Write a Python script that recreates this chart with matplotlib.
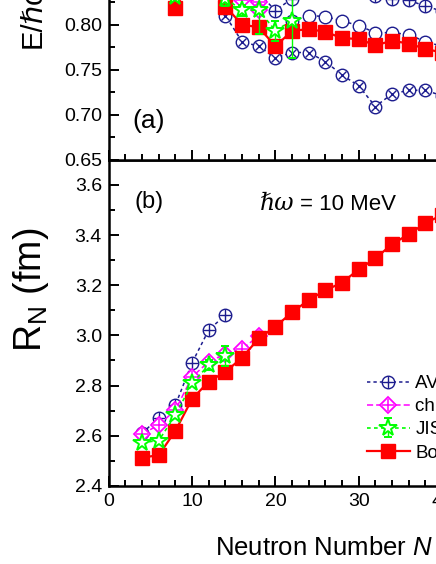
import matplotlib
matplotlib.use("Agg")
import matplotlib.pyplot as plt
from matplotlib.ticker import MultipleLocator, FormatStrFormatter
from matplotlib.legend_handler import HandlerTuple

plt.rcParams['font.family'] = ['Liberation Sans', 'DejaVu Sans']
plt.rcParams['mathtext.fontset'] = 'custom'
plt.rcParams['mathtext.rm'] = 'Liberation Sans'
plt.rcParams['mathtext.it'] = 'Liberation Sans:italic'

# ---------------- data ----------------
# (a) energies E/hw (values above the visible window are estimates)
N_bonn_a = [4, 6, 8, 10, 12, 14, 16, 18, 20, 22, 24, 26, 28, 30, 32, 34, 36, 38, 40]
E_bonn_a = [0.870, 0.855, 0.819, 0.850, 0.845, 0.820, 0.800, 0.797, 0.776, 0.793,
            0.795, 0.792, 0.785, 0.784, 0.777, 0.782, 0.779, 0.773, 0.769]

N_avx_a = [12, 14, 16, 18, 20, 22, 24, 26, 28, 30, 32, 34, 36, 38, 40]
E_avx_a = [0.870, 0.810, 0.781, 0.776, 0.763, 0.769, 0.769, 0.759, 0.744, 0.732,
           0.709, 0.723, 0.727, 0.727, 0.721]

N_avo_a = [22, 24, 26, 28, 30, 32, 34, 36, 38, 40]
E_avo_a = [0.804, 0.810, 0.809, 0.804, 0.799, 0.791, 0.791, 0.789, 0.781, 0.776]

N_av_a = [18, 20, 22, 24, 26, 28, 30, 32, 34, 36, 38, 40]
E_av_a = [0.835, 0.8156, 0.829, 0.838, 0.840, 0.839, 0.836, 0.832, 0.829, 0.827, 0.8206, 0.815]

N_chi_a = [12, 14, 16, 18]
E_chi_a = [0.845, 0.836, 0.8278, 0.8256]
N_chi2_a = [18]
E_chi2_a = [0.816]

N_jis_a = [8, 10, 12, 14, 16, 18, 20, 22]
E_jis_a = [0.831, 0.845, 0.840, 0.829, 0.816, 0.816, 0.7933, 0.8044]
err_jis_a = [0.004, 0.005, 0.005, 0.008, 0.006, 0.026, 0.011, 0.041]

# (b) radii R_N (fm)
N_av_b = [4, 6, 8, 10, 12, 14]
R_av_b = [2.610, 2.672, 2.723, 2.891, 3.022, 3.081]

N_chi_b = [4, 6, 8, 10, 12, 14, 16, 18]
R_chi_b = [2.607, 2.643, 2.703, 2.835, 2.895, 2.926, 2.946, 2.998]

N_jis_b = [4, 6, 8, 10, 12, 14]
R_jis_b = [2.573, 2.581, 2.683, 2.809, 2.882, 2.919]
err_jis_b = [0.004, 0.005, 0.008, 0.012, 0.02, 0.04]

N_bonn_b = [4, 6, 8, 10, 12, 14, 16, 18, 20, 22, 24, 26, 28, 30, 32, 34, 36, 38, 40]
R_bonn_b = [2.513, 2.523, 2.620, 2.747, 2.816, 2.855, 2.911, 2.988, 3.035, 3.092,
            3.141, 3.180, 3.210, 3.263, 3.307, 3.363, 3.403, 3.447, 3.480]

labels = ["AV8' + UIX", "chiral N3LO", "JISP16", "Bonn-B"]

# ---------------- layout ----------------
W, H = 436, 564
fig = plt.figure(figsize=(W / 100, H / 100), dpi=100)

def fx(x):
    return x / W

def fy(y):
    return 1 - y / H

x0, sx = 108.8, 8.33
xmax = 50
ax_b = fig.add_axes([fx(x0), fy(486), xmax * sx / W, 1.3 * 251 / H])
ax_t = fig.add_axes([fx(x0), fy(159.6), xmax * sx / W, 0.25 * 900 / H])

navy = '#1c1c8e'
mag = '#ff00ff'
grn = '#00ff00'
red = '#ff0000'
dot = (0, (2.2, 2.0))
dash = (0, (4, 2))

def av_plot(ax, N, V, inner, z=3):
    l1, = ax.plot(N, V, ls=dot, color=navy, lw=1.1, marker='o', ms=9, mfc='white',
                  mec=navy, mew=1.0, zorder=z)
    l2 = None
    if inner is not None:
        l2, = ax.plot(N, V, ls='none', marker=inner, ms=(9 if inner == '+' else 6.3),
                      mec=navy, mew=1.0, zorder=z + 0.1)
    return l1, l2

def chi_plot(ax, N, V, z=3.5):
    l1, = ax.plot(N, V, ls=dash, color=mag, lw=1.1, marker='D', ms=8.5, mfc='white',
                  mec=mag, mew=1.3, zorder=z)
    l2, = ax.plot(N, V, ls='none', marker='+', ms=8.5, mec=mag, mew=1.1, zorder=z + 0.1)
    return l1, l2

def jis_plot(ax, N, V, e, z=6):
    c = ax.errorbar(N, V, yerr=e, ls=dot, color=grn, lw=1.2, marker='*', ms=13,
                    mfc='white', mec=grn, mew=1.4, ecolor=grn, elinewidth=1.0,
                    capsize=3, capthick=1.0, zorder=z)
    return c

def bonn_plot(ax, N, V, z=5):
    l, = ax.plot(N, V, '-', color=red, lw=1.6, marker='s', ms=9.5, mfc=red, mec=red,
                 zorder=z)
    return l

# (a)
bonn_plot(ax_t, N_bonn_a, E_bonn_a)
av_plot(ax_t, N_avx_a, E_avx_a, 'x')
av_plot(ax_t, N_avo_a, E_avo_a, None)
av_plot(ax_t, N_av_a, E_av_a, '+')
chi_plot(ax_t, N_chi_a, E_chi_a)
ax_t.plot(N_chi2_a, E_chi2_a, ls='none', marker='D', ms=8.5, mfc='white', mec=mag,
          mew=1.3, zorder=3.6)
jis_plot(ax_t, N_jis_a, E_jis_a, err_jis_a)

# (b)
h_av = av_plot(ax_b, N_av_b, R_av_b, '+')
h_chi = chi_plot(ax_b, N_chi_b, R_chi_b)
h_jis = jis_plot(ax_b, N_jis_b, R_jis_b, err_jis_b)
h_bonn = bonn_plot(ax_b, N_bonn_b, R_bonn_b)

# axes styling
for ax in (ax_t, ax_b):
    ax.set_xlim(0, xmax)
    ax.xaxis.set_major_locator(MultipleLocator(10))
    ax.xaxis.set_minor_locator(MultipleLocator(2))
    ax.tick_params(which='both', direction='in', width=1.4, labelsize=14, pad=5,
                   color='black')
    ax.tick_params(which='major', length=7)
    ax.tick_params(which='minor', length=4)
    for s in ax.spines.values():
        s.set_linewidth(1.8)

ax_t.set_ylim(0.65, 0.90)
ax_t.yaxis.set_major_locator(MultipleLocator(0.05))
ax_t.yaxis.set_minor_locator(MultipleLocator(0.025))
ax_t.yaxis.set_major_formatter(FormatStrFormatter('%.2f'))
ax_t.tick_params(axis='x', labelbottom=False)

ax_b.set_ylim(2.4, 3.7)
ax_b.yaxis.set_major_locator(MultipleLocator(0.2))
ax_b.yaxis.set_minor_locator(MultipleLocator(0.1))
ax_b.yaxis.set_major_formatter(FormatStrFormatter('%.1f'))
ax_b.xaxis.set_major_formatter(FormatStrFormatter('%d'))

# texts
fig.text(fx(149), fy(128), '(a)', fontsize=19, ha='center', va='baseline')
fig.text(fx(149), fy(208), '(b)', fontsize=17, ha='center', va='baseline')
fig.text(fx(260), fy(210), '\u210f\u03c9', fontsize=17, ha='left', va='baseline',
         family=['DejaVu Serif'], style='italic')
fig.text(fx(300), fy(210), '= 10 MeV', fontsize=16, ha='left', va='baseline')
fig.text(fx(215), fy(555), 'Neutron Number $N$', fontsize=18.5, ha='left',
         va='baseline')
fig.text(fx(31), fy(290), r'R$_\mathregular{N}$ (fm)', fontsize=27, rotation=90,
         ha='center', va='center')
fig.text(fx(33), fy(48), 'E/\u210f\u03c9', fontsize=21, rotation=90,
         ha='center', va='bottom')

leg = ax_b.legend([h_av, h_chi, h_jis, h_bonn], labels,
                  handler_map={tuple: HandlerTuple(ndivide=1)},
                  loc='upper left', bbox_to_anchor=(fx(366.7), fy(375)),
                  bbox_transform=fig.transFigure, frameon=False, fontsize=13.5,
                  handlelength=2.3, handletextpad=0.3, labelspacing=0.32,
                  borderpad=0, borderaxespad=0)

fig.savefig('out.png', dpi=100)
